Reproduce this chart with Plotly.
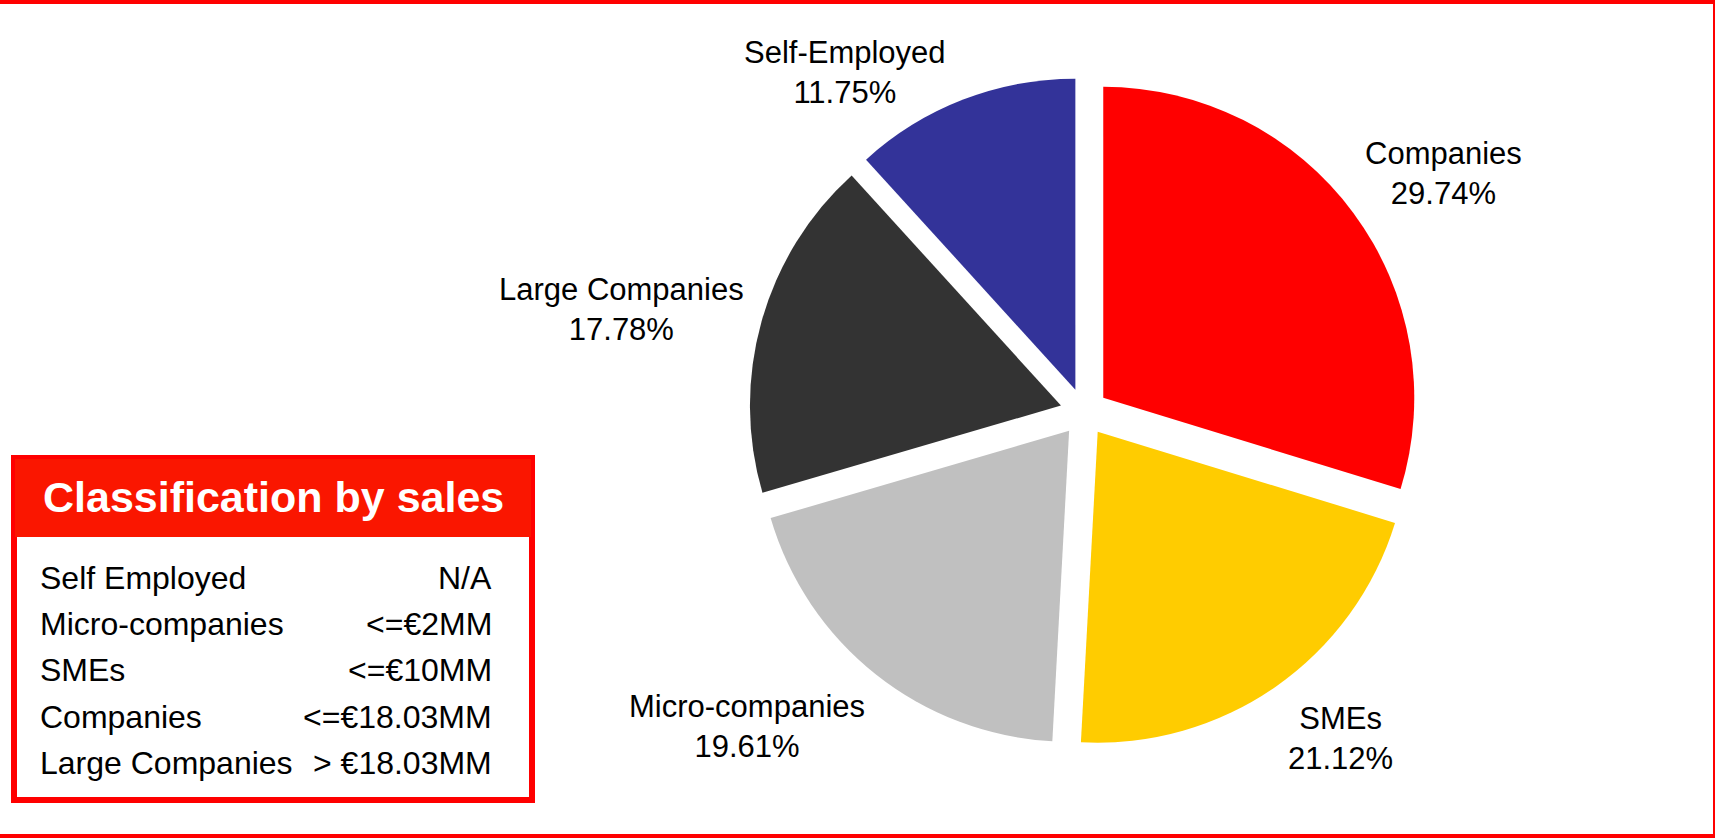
import plotly.graph_objects as go

# Sales-class breakdown (share of total, %)
segments = ["Companies", "SMEs", "Micro-companies", "Large Companies", "Self-Employed"]
shares = [29.74, 21.12, 19.61, 17.78, 11.75]
slice_colors = ["#FF0000", "#FFCC00", "#C0C0C0", "#333333", "#333399"]

# Classification table shown in the boxed key
class_names = ["Self Employed", "Micro-companies", "SMEs", "Companies", "Large Companies"]
class_limits = ["N/A", "<=€2MM", "<=€10MM", "<=€18.03MM", "> €18.03MM"]

W, H = 1715, 838
FONT = "Liberation Sans, Arial, sans-serif"


def px(x):
    return x / W


def py(y):
    return 1 - y / H


# Pie geometry in pixels
cx, cy = 1084, 412
pull = 0.077
radius = 311
outer = radius * (1 + pull)

fig = go.Figure()
fig.add_trace(go.Pie(
    labels=segments,
    values=shares,
    marker=dict(colors=slice_colors, line=dict(width=0)),
    pull=[pull] * len(shares),
    sort=False,
    direction="clockwise",
    rotation=0,
    textinfo="none",
    showlegend=False,
    domain=dict(x=[px(cx - outer), px(cx + outer)], y=[py(cy + outer), py(cy - outer)]),
))

# Slice labels (name + share)
label_pos = [(1443, 173), (1340, 738), (747, 726), (621, 309), (845, 73)]
annotations = []
for name, val, (lx, ly) in zip(segments, shares, label_pos):
    annotations.append(dict(
        x=px(lx), y=py(ly), xref="paper", yref="paper",
        text=f"{name}<br>{val:.2f}%", showarrow=False,
        xanchor="center", yanchor="middle", align="center",
        font=dict(family=FONT, size=31, color="#000000"),
    ))

# Key box title
annotations.append(dict(
    x=px(273), y=py(497), xref="paper", yref="paper",
    text="<b>Classification by sales</b>", showarrow=False,
    xanchor="center", yanchor="middle",
    font=dict(family=FONT, size=43, color="#FFFFFF"),
))

# Key box rows
row_y0, row_step = 578, 46.2
for i, (nm, lim) in enumerate(zip(class_names, class_limits)):
    yy = row_y0 + i * row_step
    annotations.append(dict(
        x=px(38), y=py(yy), xref="paper", yref="paper",
        text=nm, showarrow=False, xanchor="left", yanchor="middle",
        font=dict(family=FONT, size=32, color="#000000"),
    ))
    annotations.append(dict(
        x=px(494), y=py(yy), xref="paper", yref="paper",
        text=lim, showarrow=False, xanchor="right", yanchor="middle",
        font=dict(family=FONT, size=32, color="#000000"),
    ))


def rect(x0, y0, x1, y1, color):
    return dict(type="rect", xref="paper", yref="paper",
                x0=px(x0), x1=px(x1), y0=py(y1), y1=py(y0),
                fillcolor=color, line=dict(width=0), layer="below")


shapes = [
    # frame lines
    rect(0, 0, W, 4, "#FF0000"),
    rect(0, H - 4, W, H, "#FF0000"),
    rect(W - 2, 0, W, H, "#FF0000"),
    # key box
    rect(11, 455, 535, 803, "#FF0000"),
    rect(15, 459, 531, 537, "#FA1600"),
    rect(17, 537, 529, 797, "#FFFFFF"),
]

fig.update_layout(
    width=W, height=H,
    margin=dict(l=0, r=0, t=0, b=0),
    paper_bgcolor="#FFFFFF",
    plot_bgcolor="#FFFFFF",
    annotations=annotations,
    shapes=shapes,
)

fig.write_html("out.html")
